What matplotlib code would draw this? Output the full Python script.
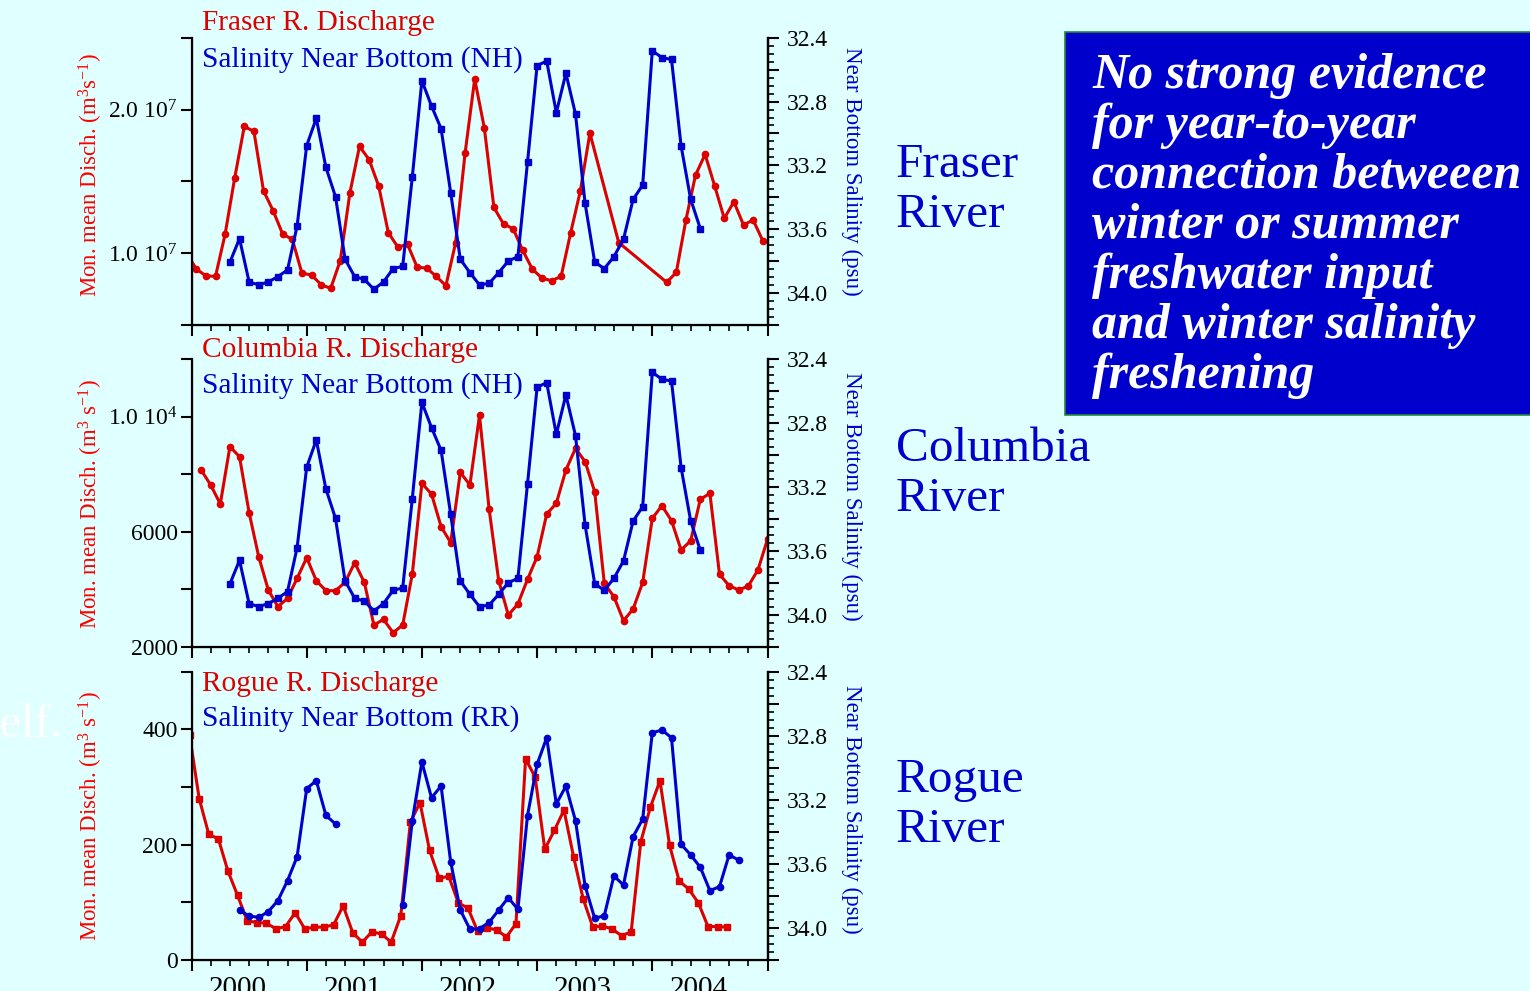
import numpy as np
import matplotlib
matplotlib.use("Agg")
import matplotlib.pyplot as plt
from matplotlib.patches import Rectangle
from matplotlib.ticker import FixedLocator, MultipleLocator, NullFormatter
import matplotlib.transforms as mtransforms

plt.rcParams['font.family'] = ['Liberation Serif', 'DejaVu Serif']
plt.rcParams['mathtext.fontset'] = 'custom'
plt.rcParams['mathtext.rm'] = 'Liberation Serif'
plt.rcParams['mathtext.it'] = 'Liberation Serif:italic'

RED = '#dd0000'
BLUE = '#0000cc'
BG = '#e0ffff'

# ---- data (month index from Jan 2000) ----
# Fraser discharge, plotted mid-month
fraser_months = [-1, 0, 1, 2, 3, 4, 5, 6, 7, 8, 9, 10, 11, 12, 13, 14, 15, 16, 17, 18, 19,
                 20, 21, 22, 23, 24, 25, 26, 27, 28, 29, 30, 31, 32, 33, 34, 35, 36, 37, 38,
                 39, 40, 41, 44, 49, 50, 51, 52, 53, 54, 55, 56, 57, 58, 59]
fraser_q = np.array([1.00, 0.889, 0.843, 0.838, 1.132, 1.524, 1.882, 1.848, 1.434, 1.296,
                     1.132, 1.097, 0.861, 0.848, 0.781, 0.755, 0.949, 1.420, 1.744, 1.651,
                     1.467, 1.143, 1.042, 1.062, 0.903, 0.896, 0.838, 0.774, 1.069, 1.697,
                     2.212, 1.873, 1.319, 1.203, 1.171, 1.02, 0.889, 0.827, 0.808, 0.838,
                     1.143, 1.432, 1.836, 1.074, 0.797, 0.866, 1.231, 1.543, 1.688, 1.467,
                     1.242, 1.358, 1.196, 1.231, 1.088]) * 1e7

# Newport Hydrographic line near-bottom salinity (used for Fraser and Columbia)
nh_months = list(range(4, 54))
nh_sal = [33.807, 33.659, 33.930, 33.949, 33.930, 33.897, 33.855, 33.580, 33.076, 32.905,
          33.212, 33.396, 33.788, 33.897, 33.914, 33.976, 33.930, 33.847, 33.832, 33.273,
          32.669, 32.828, 32.970, 33.371, 33.788, 33.872, 33.949, 33.939, 33.872, 33.799,
          33.772, 33.181, 32.575, 32.546, 32.870, 32.623, 32.878, 33.438, 33.805, 33.847,
          33.772, 33.663, 33.413, 33.323, 32.481, 32.525, 32.536, 33.078, 33.413, 33.596]

columbia_months = list(range(1, 61))
columbia_q = [8148, 7626, 6965, 8961, 8613, 6664, 5132, 3972, 3392, 3682,
              4378, 5097, 4297, 3949, 3949, 4239, 4923, 4239, 2754, 2951,
              2487, 2754, 4529, 7684, 7313, 6176, 5619, 8067, 7626, 10050,
              6791, 4297, 3102, 3485, 4343, 5132, 6617, 6988, 8148, 8903,
              8439, 7394, 4204, 3740, 2905, 3311, 4239, 6466, 6907, 6385,
              5364, 5689, 7128, 7336, 4517, 4123, 3972, 4111, 4668, 5735]

rogue_months = list(range(-1, 56))
rogue_q = [390, 280, 218, 210, 154, 112, 68, 65, 64, 54, 58, 82, 54, 57, 57, 61, 94, 47, 31,
           49, 45, 31, 77, 239, 273, 190, 142, 145, 99, 90, 50, 56, 52, 40, 63, 349, 317,
           192, 225, 260, 179, 106, 57, 59, 54, 42, 49, 205, 265, 311, 199, 137, 123, 99,
           58, 58, 57]

# Rogue River line near-bottom salinity (gap = no cruises)
rr_months = list(range(5, 58))
rr_sal = [33.890, 33.925, 33.934, 33.898, 33.829, 33.705, 33.555, 33.130, 33.080, 33.297,
          33.351, np.nan, np.nan, np.nan, np.nan, np.nan, np.nan,
          33.857, 33.330, 32.964, 33.187, 33.114, 33.588, 33.888, 34.008, 34.004, 33.965,
          33.888, 33.811, 33.884, 33.299, 32.978, 32.812, 33.226, 33.114, 33.330, 33.738,
          33.940, 33.923, 33.675, 33.732, 33.430, 33.320, 32.781, 32.764, 32.812, 33.478,
          33.544, 33.621, 33.767, 33.742, 33.544, 33.576]

years = [2000, 2001, 2002, 2003, 2004]

box_lines = ["No strong evidence", "for year-to-year", "connection betweeen",
             "winter or summer", "freshwater input", "and winter salinity", "freshening"]

# ---- figure ----
W, H = 1530, 991
fig = plt.figure(figsize=(W / 100, H / 100), dpi=100, facecolor=BG)


def px(x, y):
    return x / W, 1 - y / H


def t_of(months, off):
    return 2000 + (np.asarray(months) + off) / 12.0


panels = [
    dict(top=37.7, bot=325, q_t=t_of(fraser_months, 0.5), q=fraser_q, q_m='o',
         s_t=t_of(nh_months, 0), s=nh_sal, s_m='s',
         ylim=(5e6, 2.5e7), yticks=[5e6, 1e7, 1.5e7, 2e7, 2.5e7],
         ylabels=['', r'1.0 10$^{7}$', '', r'2.0 10$^{7}$', ''],
         t1="Fraser R. Discharge", t2="Salinity Near Bottom (NH)", ty=(30, 66.5),
         ylab=r'Mon. mean Disch. (m$^{3}$s$^{-1}$)', lc=175, rc=171,
         river=("Fraser", "River"), ry=(177, 227)),
    dict(top=359.3, bot=646.7, q_t=t_of(columbia_months, 0), q=columbia_q, q_m='o',
         s_t=t_of(nh_months, 0), s=nh_sal, s_m='s',
         ylim=(2000, 12000), yticks=[2000, 4000, 6000, 8000, 10000, 12000],
         ylabels=['2000', '', '6000', '', r'1.0 10$^{4}$', ''],
         t1="Columbia R. Discharge", t2="Salinity Near Bottom (NH)", ty=(357, 393),
         ylab=r'Mon. mean Disch. (m$^{3}$ s$^{-1}$)', lc=504, rc=496,
         river=("Columbia", "River"), ry=(461, 511)),
    dict(top=671.7, bot=960, q_t=t_of(rogue_months, 0.8), q=rogue_q, q_m='s',
         s_t=t_of(rr_months, 0), s=rr_sal, s_m='o',
         ylim=(0, 500), yticks=[0, 100, 200, 300, 400, 500],
         ylabels=['0', '', '200', '', '400', ''],
         t1="Rogue R. Discharge", t2="Salinity Near Bottom (RR)", ty=(691, 726),
         ylab=r'Mon. mean Disch. (m$^{3}$ s$^{-1}$)', lc=816, rc=809,
         river=("Rogue", "River"), ry=(792, 842)),
]

left, right = 191.5, 767.5
for i, p in enumerate(panels):
    ax = fig.add_axes([left / W, 1 - p['bot'] / H, (right - left) / W, (p['bot'] - p['top']) / H])
    ax.set_facecolor('none')
    ax.plot(p['q_t'], p['q'], color=RED, lw=2.2, marker=p['q_m'],
            ms=4.5 if p['q_m'] == 'o' else 5, clip_on=True)
    ax.set_xlim(2000, 2005)
    ax.set_ylim(*p['ylim'])
    ax.yaxis.set_major_locator(FixedLocator(p['yticks']))
    ax.set_yticklabels(p['ylabels'])
    ax.xaxis.set_major_locator(MultipleLocator(1))
    ax.xaxis.set_minor_locator(MultipleLocator(1 / 6))
    ax.xaxis.set_major_formatter(NullFormatter())
    ax.tick_params(axis='y', direction='out', length=8, width=1.5, labelsize=17, pad=2)
    ax.tick_params(axis='x', which='major', direction='out', length=8, width=1.5)
    ax.tick_params(axis='x', which='minor', direction='out', length=4.5, width=1.2)
    for s in ['left', 'right', 'bottom']:
        ax.spines[s].set_linewidth(1.6)
    ax.spines['top'].set_visible(False)

    ax2 = ax.twinx()
    ax2.plot(p['s_t'], p['s'], color=BLUE, lw=2.2, marker=p['s_m'],
             ms=5 if p['s_m'] == 's' else 4.5)
    ax2.set_ylim(34.2, 32.4)
    sal_major = np.round(np.arange(32.4, 34.21, 0.2), 1)
    ax2.yaxis.set_major_locator(FixedLocator(sal_major))
    ax2.set_yticklabels(['%.1f' % v if k % 2 == 0 else '' for k, v in enumerate(sal_major)])
    ax2.yaxis.set_minor_locator(MultipleLocator(0.05))
    ax2.tick_params(axis='y', which='major', direction='out', length=8, width=1.5,
                    labelsize=17, pad=6)
    ax2.tick_params(axis='y', which='minor', direction='out', length=4.5, width=1.2)
    ax2.spines['top'].set_visible(False)
    ax2.spines['right'].set_linewidth(1.6)

    # panel titles
    fig.text(*px(202, p['ty'][0]), p['t1'], color=RED, fontsize=21.2, va='baseline')
    fig.text(*px(202, p['ty'][1]), p['t2'], color=BLUE, fontsize=21.2, va='baseline')
    # axis labels
    fig.text(*px(91, p['lc']), p['ylab'], color='#ff0000', fontsize=16.5, rotation=90,
             ha='center', va='center')
    fig.text(*px(852, p['rc']), "Near Bottom Salinity (psu)", color=BLUE, fontsize=16.5,
             rotation=270, ha='center', va='center')
    # river names
    fig.text(*px(896, p['ry'][0]), p['river'][0], color=BLUE, fontsize=35.5, va='baseline')
    fig.text(*px(896, p['ry'][1]), p['river'][1], color=BLUE, fontsize=35.5, va='baseline')

    if i == 2:
        trans = mtransforms.blended_transform_factory(ax.transData, fig.transFigure)
        for yr in years:
            ax.text(yr + 0.4, 1 - 996.5 / H, str(yr), transform=trans, ha='center',
                    va='baseline', fontsize=21, clip_on=False)

# leftover text from the slide
fig.text(*px(62, 737), "shelf.", color='white', fontsize=34.5, ha='right', va='baseline')

# summary box
bx0, by0 = px(1065, 415)
bx1, by1 = px(1535, 31.7)
fig.patches.append(Rectangle((bx0, by0), bx1 - bx0, by1 - by0, transform=fig.transFigure,
                             facecolor='#0000cc', edgecolor='#1e8b3a', lw=1.2))
for k, line in enumerate(box_lines):
    fig.text(*px(1092, 88 + 50 * k), line, color='white', fontsize=36, fontweight='bold',
             fontstyle='italic', va='baseline')

fig.savefig("out.png", dpi=100, facecolor=BG)
